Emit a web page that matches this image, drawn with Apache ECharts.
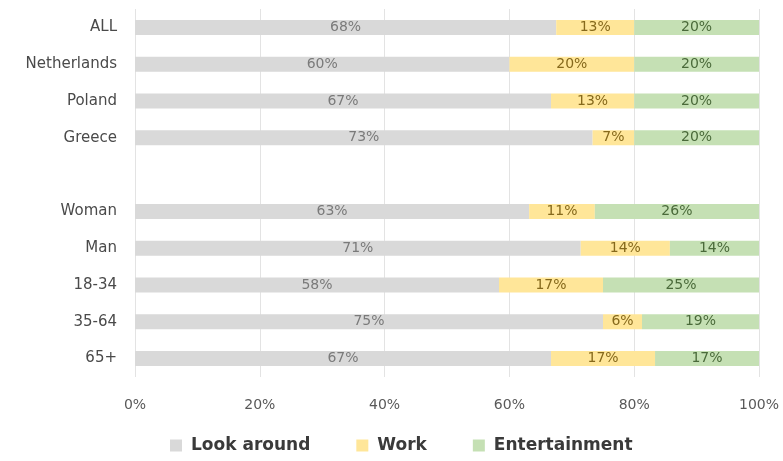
<!DOCTYPE html>
<html>
<head>
<meta charset="utf-8">
<script src="https://cdn.jsdelivr.net/npm/echarts@6/dist/echarts.min.js"></script>
<style>
  html, body { margin: 0; padding: 0; background: #ffffff; }
  #chart { width: 783px; height: 461px; }
</style>
</head>
<body>
<div id="chart"></div>
<script>
// Share of answers per group (percent); the empty row separates countries from demographics
const categories = ['ALL', 'Netherlands', 'Poland', 'Greece', '', 'Woman', 'Man', '18-34', '35-64', '65+'];
const lookAround = [67.5, 60, 66.67, 73.33, null, 63.16, 71.43, 58.33, 75, 66.67];
const work = [12.5, 20, 13.33, 6.67, null, 10.53, 14.29, 16.67, 6.25, 16.67];
const entertainment = [20, 20, 20, 20, null, 26.32, 14.29, 25, 18.75, 16.67];
const xTicks = [0, 20, 40, 60, 80, 100];

const font = '"DejaVu Sans", sans-serif';

function makeSeries(name, data, color, labelColor) {
  return {
    name: name,
    type: 'bar',
    stack: 'total',
    data: data,
    barWidth: 15,
    itemStyle: { color: color },
    label: {
      show: true,
      position: 'inside',
      fontFamily: font,
      fontSize: 14,
      color: labelColor,
      formatter: p => (p.value == null ? '' : Math.round(p.value) + '%')
    },
    emphasis: { disabled: true }
  };
}

const chart = echarts.init(document.getElementById('chart'), null, { renderer: 'canvas' });
chart.setOption({
  animation: false,
  backgroundColor: '#ffffff',
  grid: { left: 135, right: 24, top: 9, bottom: 84, containLabel: false },
  legend: {
    top: 432,
    left: 165,
    itemWidth: 12,
    itemHeight: 12,
    itemGap: 46,
    icon: 'rect',
    textStyle: { fontFamily: font, fontSize: 17, fontWeight: 'bold', color: '#3a3a3a', padding: [0, 0, 0, 4] },
    data: ['Look around', 'Work', 'Entertainment']
  },
  xAxis: {
    type: 'value',
    min: 0,
    max: 100,
    interval: 20,
    axisLine: { show: false },
    axisTick: { show: false },
    splitLine: { show: true, lineStyle: { color: '#e3e3e3', width: 1 } },
    axisLabel: {
      margin: 21,
      fontFamily: font,
      fontSize: 14,
      color: '#595959',
      formatter: v => (xTicks.includes(v) ? v + '%' : '')
    }
  },
  yAxis: {
    type: 'category',
    inverse: true,
    data: categories,
    axisLine: { show: false },
    axisTick: { show: false },
    axisLabel: { margin: 18, fontFamily: font, fontSize: 15, color: '#4a4a4a' }
  },
  series: [
    makeSeries('Look around', lookAround, '#d9d9d9', '#7a7a7a'),
    makeSeries('Work', work, '#ffe699', '#86691c'),
    makeSeries('Entertainment', entertainment, '#c5e0b4', '#4a6a3a')
  ]
});
</script>
</body>
</html>
